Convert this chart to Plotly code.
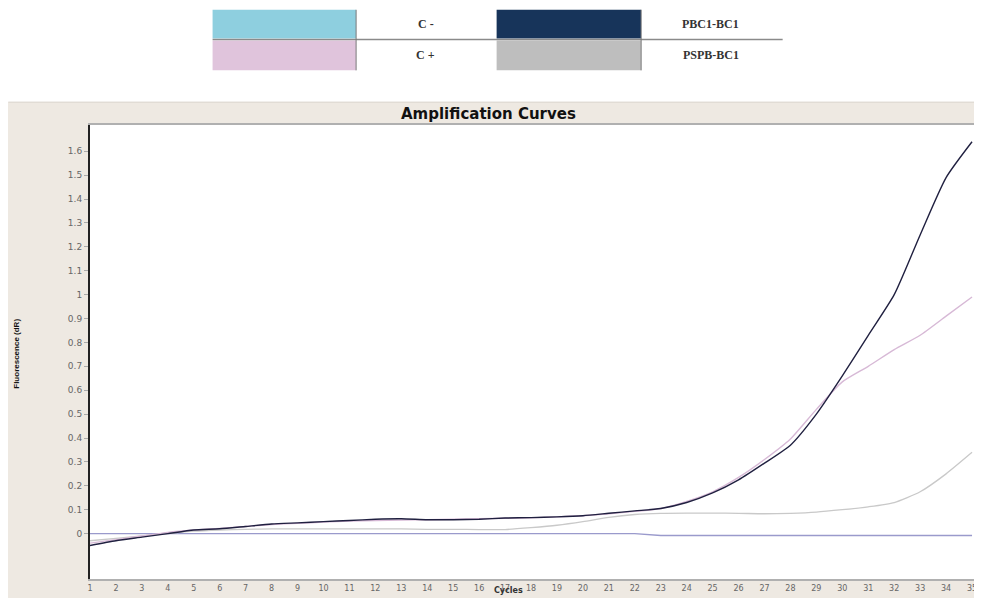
import plotly.graph_objects as go

cycles = list(range(1, 36))

pbc1_bc1 = [-0.05, -0.03, -0.015, 0.0, 0.015, 0.02, 0.03, 0.04, 0.045, 0.05,
            0.055, 0.06, 0.062, 0.058, 0.058, 0.06, 0.065, 0.067, 0.07, 0.075,
            0.085, 0.095, 0.105, 0.13, 0.17, 0.225, 0.295, 0.37, 0.5, 0.66,
            0.83, 1.0, 1.25, 1.49, 1.64]

c_pos = [-0.04, -0.025, -0.01, 0.005, 0.015, 0.022, 0.03, 0.038, 0.043, 0.048,
         0.052, 0.055, 0.057, 0.058, 0.06, 0.062, 0.064, 0.066, 0.07, 0.075,
         0.083, 0.093, 0.105, 0.135, 0.175, 0.235, 0.31, 0.396, 0.52, 0.635,
         0.70, 0.77, 0.83, 0.91, 0.99]

pspb_bc1 = [-0.03, -0.02, -0.01, 0.0, 0.01, 0.015, 0.018, 0.02, 0.02, 0.02,
            0.02, 0.02, 0.02, 0.018, 0.018, 0.017, 0.017, 0.025, 0.035, 0.05,
            0.068, 0.08, 0.085, 0.086, 0.086, 0.085, 0.083, 0.085, 0.09, 0.1,
            0.112, 0.13, 0.175, 0.25, 0.34]

c_neg = [0.0] * 22 + [-0.008] * 13

y_ticks = [round(0.1 * i, 1) for i in range(0, 17)]
y_tick_labels = ["0" if v == 0 else ("1" if v == 1 else f"{v:g}") for v in y_ticks]
x_ticks = cycles
x_tick_labels = [str(c) for c in cycles]

legend_names = ["C -", "C +", "PBC1-BC1", "PSPB-BC1"]
legend_colors = ["#8ECFDF", "#E0C4DC", "#17345A", "#BEBEBE"]

# page body has an 8px margin; the figure starts at (8, 8) of the window
OFF = 8
W, H = 982 - OFF, 598 - OFF
ML, MR, MT, MB = 90 - OFF, 5, 125 - OFF, 16
PW, PH = W - ML - MR, H - MT - MB


def px(x):
    """reference window x pixel -> paper x"""
    return (x - OFF - ML) / PW


def py(y):
    """reference window y pixel -> paper y"""
    return (H - MB - (y - OFF)) / PH


fig = go.Figure()
fig.add_trace(go.Scatter(x=cycles, y=c_neg, mode="lines", name="C -",
                         line=dict(color="#9A9ACC", width=1.3)))
fig.add_trace(go.Scatter(x=cycles, y=pspb_bc1, mode="lines", name="PSPB-BC1",
                         line=dict(color="#C9C9C9", width=1.3, shape="spline", smoothing=0.6)))
fig.add_trace(go.Scatter(x=cycles, y=c_pos, mode="lines", name="C +",
                         line=dict(color="#D7B9D6", width=1.4, shape="spline", smoothing=0.6)))
fig.add_trace(go.Scatter(x=cycles, y=pbc1_bc1, mode="lines", name="PBC1-BC1",
                         line=dict(color="#202040", width=1.4, shape="spline", smoothing=0.6)))

shapes = []
# white area above chart panel
shapes.append(dict(type="rect", xref="paper", yref="paper", x0=px(0), x1=px(990),
                   y0=py(102), y1=py(0), fillcolor="white", line=dict(width=0), layer="below"))
shapes.append(dict(type="line", xref="paper", yref="paper", x0=px(8), x1=px(990),
                   y0=py(102), y1=py(102), line=dict(color="#D8D2CA", width=1)))

# legend table
cells = [(213, 357, 9, 38, legend_colors[0]), (213, 357, 40, 70, legend_colors[1]),
         (498, 643, 9, 38, legend_colors[2]), (498, 643, 40, 70, legend_colors[3])]
for x0, x1, y0, y1, c in cells:
    shapes.append(dict(type="rect", xref="paper", yref="paper", x0=px(x0), x1=px(x1),
                       y0=py(y1), y1=py(y0), fillcolor=c, line=dict(width=0)))
shapes.append(dict(type="line", xref="paper", yref="paper", x0=px(213), x1=px(785),
                   y0=py(39), y1=py(39), line=dict(color="#8A8A8A", width=1.5)))
for xv in (357, 643):
    shapes.append(dict(type="line", xref="paper", yref="paper", x0=px(xv), x1=px(xv),
                       y0=py(70), y1=py(9), line=dict(color="#7A7A7A", width=1)))

annotations = [
    dict(text=legend_names[0], x=px(427), y=py(23)),
    dict(text=legend_names[1], x=px(427), y=py(55)),
    dict(text=legend_names[2], x=px(713), y=py(23)),
    dict(text=legend_names[3], x=px(713), y=py(55)),
]
for a in annotations:
    a.update(xref="paper", yref="paper", showarrow=False, xanchor="center", yanchor="middle",
             font=dict(family="Liberation Serif", size=12, color="#333333", weight="bold"))

annotations.append(dict(text="Amplification Curves", xref="paper", yref="paper",
                        x=px(490), y=py(114), showarrow=False, xanchor="center", yanchor="middle",
                        font=dict(family="DejaVu Sans", size=15, color="#111111", weight="bold")))
annotations.append(dict(text="Cycles", xref="paper", yref="paper",
                        x=px(510), y=py(599), showarrow=False, xanchor="center", yanchor="bottom",
                        borderpad=0,
                        font=dict(family="DejaVu Sans", size=8, color="#333333", weight="bold")))
annotations.append(dict(text="Fluorescence (dR)", xref="paper", yref="paper",
                        x=px(16), y=py(355), showarrow=False, textangle=-90,
                        xanchor="center", yanchor="middle",
                        font=dict(family="Liberation Sans Narrow, Liberation Sans", size=8,
                                  color="#111111", weight="bold")))

fig.update_layout(
    width=W, height=H,
    margin=dict(l=ML, r=MR, t=MT, b=MB),
    paper_bgcolor="#EEE9E2",
    plot_bgcolor="white",
    showlegend=False,
    shapes=shapes,
    annotations=annotations,
)
fig.update_xaxes(range=[1, 1 + PW / 26.03], tickvals=x_ticks, ticktext=x_tick_labels,
                 showgrid=False, zeroline=False, showline=True, linecolor="#B0B0B0",
                 linewidth=2, mirror=True, ticks="", ticklabelstandoff=0,
                 tickfont=dict(family="DejaVu Sans", size=8, color="#666666"))
fig.update_yaxes(range=[-0.19, 1.71], tickvals=y_ticks, ticktext=y_tick_labels,
                 showgrid=False, zeroline=False, showline=True, linecolor="#222222",
                 linewidth=2, mirror=True, ticks="outside", ticklen=4, tickcolor="#AAAAAA",
                 tickfont=dict(family="DejaVu Sans", size=9, color="#666666"))

fig.write_html("out.html")
